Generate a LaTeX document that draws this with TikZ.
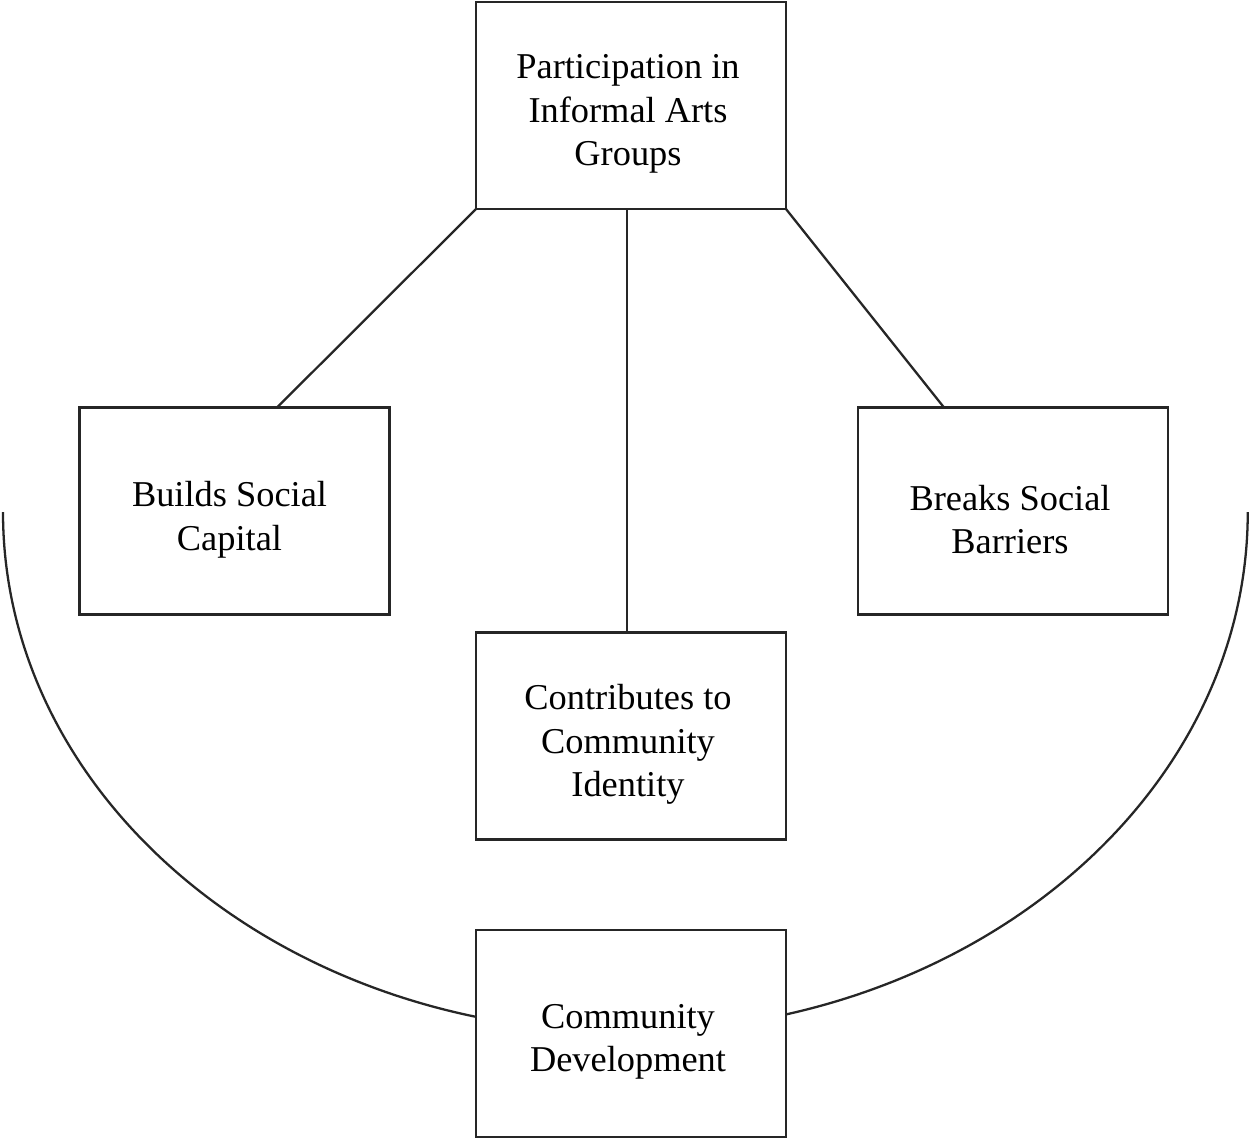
\documentclass[tikz,border=0pt]{standalone}
\usepackage{fontspec}
\setmainfont{Liberation Serif}
\begin{document}
\begin{tikzpicture}[x=0.02cm,y=-0.02cm,
  box/.style={draw=black!85, line width=1.3pt, fill=white, rectangle,
    minimum width=6.2cm, minimum height=4.14cm, inner sep=0pt, outer sep=0pt},
  lbl/.style={align=center, inner sep=0pt, xshift=-0.06cm, yshift=-0.17cm,
    font=\fontsize{20.7pt}{24.8pt}\selectfont},
  link/.style={draw=black!85, line width=1.3pt}]
\useasboundingbox[fill=white] (0,0) rectangle (1250,1140);
% enclosing arc
\draw[link] (3,512) arc[start angle=180, end angle=360, x radius=12.45cm, y radius=10.4cm];
\node[box, label={[lbl]center:{Participation in\\Informal Arts\\Groups}}] (top) at (631,105.5) {};
\node[box, label={[lbl, xshift=-0.04cm]center:{Builds Social\\Capital}}] (left) at (234.5,511) {};
\node[box, label={[lbl]center:{Breaks Social\\Barriers}}] (right) at (1013,511) {};
\node[box, label={[lbl]center:{Contributes to\\Community\\Identity}}] (mid) at (631,736) {};
\node[box, label={[lbl]center:{Community\\Development}}] (dev) at (631,1033.5) {};
\draw[link] (top.south west) -- ([xshift=0.85cm]left.north);
\draw[link] ([xshift=-0.08cm]top.south) -- ([xshift=-0.08cm]mid.north);
\draw[link] (top.south east) -- ([xshift=-1.38cm]right.north);
\end{tikzpicture}
\end{document}
